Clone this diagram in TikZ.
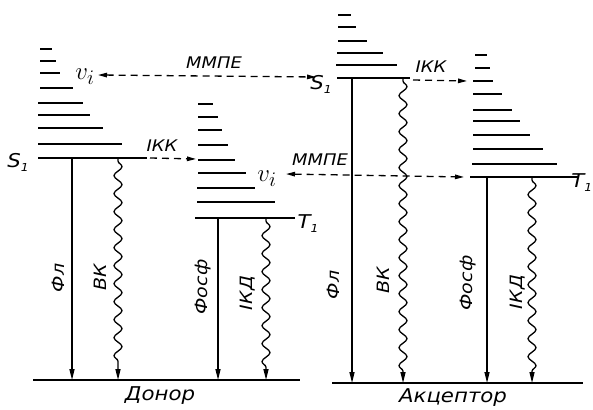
\documentclass[tikz,border=0pt]{standalone}
\usepackage{fontspec}
\newfontfamily\lab[FakeStretch=1.12]{DejaVu Sans}
\usetikzlibrary{arrows.meta,decorations.pathmorphing}
\begin{document}
\begin{tikzpicture}[x=1pt,y=-1pt,
  lvl/.style={line width=1.7pt},
  mainlvl/.style={line width=2.7pt},
  ground/.style={line width=2.7pt},
  radarrow/.style={line width=1.3pt,-{Triangle[length=11pt,width=5pt]}},
  wavy/.style={line width=1.3pt,-{Triangle[length=11pt,width=5pt]},decorate,
    decoration={snake,amplitude=4pt,segment length=18pt,pre length=3pt,post length=10pt}},
  dshboth/.style={line width=1.3pt,dash pattern=on 7pt off 5pt,{Triangle[length=9pt,width=4.5pt]}-{Triangle[length=9pt,width=4.5pt]}},
  dsh/.style={line width=1.3pt,dash pattern=on 7pt off 5pt,-{Triangle[length=9pt,width=4.5pt]}},
  lbl/.style={font=\lab\itshape\fontsize{16}{16}\selectfont,inner sep=0pt},
  vlbl/.style={font=\lab\itshape\fontsize{17}{17}\selectfont,inner sep=0pt,rotate=90},
  big/.style={font=\lab\itshape\fontsize{19}{19}\selectfont,inner sep=0pt},
  vi/.style={font=\fontsize{31}{31}\selectfont,inner sep=0pt},
]
\clip (0,0) rectangle (593,409);
\fill[white] (0,0) rectangle (593,409);

% ---------- Donor S1 ladder ----------
\foreach \yy/\a/\b in {49/40/52,61/40/56,73/40/60,88/40/73,103/38/83,115/38/90,128/38/103,144/38/122}
  \draw[lvl] (\a,\yy) -- (\b,\yy);
\draw[mainlvl] (38,158) -- (147,158);
% ---------- Donor T1 ladder ----------
\foreach \yy/\a/\b in {104/198/213,117/198/218,130/198/222,145/198/228,160/198/235,173/198/246,188/197/255,202/197/275}
  \draw[lvl] (\a,\yy) -- (\b,\yy);
\draw[mainlvl] (195,218) -- (295,218);
% ---------- Acceptor S1 ladder ----------
\foreach \yy/\a/\b in {15/338/351,27/338/356,41/338/367,53/337/383,65/336/397}
  \draw[lvl] (\a,\yy) -- (\b,\yy);
\draw[mainlvl] (337,78) -- (410,78);
% ---------- Acceptor T1 ladder ----------
\foreach \yy/\a/\b in {55/475/487,68/475/490,81/473/493,94/473/502,110/473/512,121/473/520,135/473/530,149/473/543,164/472/557}
  \draw[lvl] (\a,\yy) -- (\b,\yy);
\draw[mainlvl] (470,177) -- (578,177);

% ---------- ground lines ----------
\draw[ground] (33,380) -- (300,380);
\draw[ground] (332,383) -- (583,383);

% ---------- coordinates ----------
\coordinate (dFlT) at (72,158);   \coordinate (dFlB) at (72,380);
\coordinate (dVkT) at (118,158);  \coordinate (dVkB) at (118,380);
\coordinate (dFoT) at (218,218);  \coordinate (dFoB) at (218,380);
\coordinate (dIkT) at (266,218);  \coordinate (dIkB) at (266,380);
\coordinate (aFlT) at (352,78);   \coordinate (aFlB) at (352,383);
\coordinate (aVkT) at (403,78);   \coordinate (aVkB) at (403,383);
\coordinate (aFoT) at (487,177);  \coordinate (aFoB) at (487,383);
\coordinate (aIkT) at (532,177);  \coordinate (aIkB) at (532,383);

\coordinate (dIKKa) at (150,158); \coordinate (dIKKb) at (196,159);
\coordinate (aIKKa) at (413,80);  \coordinate (aIKKb) at (467,81);
\coordinate (m1a) at (98,75);     \coordinate (m1b) at (316,77);
\coordinate (m2a) at (286,174);   \coordinate (m2b) at (464,177);

% ---------- transitions ----------
\draw[radarrow] (dFlT) -- (dFlB);
\draw[wavy] (dVkT) -- (dVkB);
\draw[radarrow] (dFoT) -- (dFoB);
\draw[wavy] (dIkT) -- (dIkB);
\draw[radarrow] (aFlT) -- (aFlB);
\draw[wavy] (aVkT) -- (aVkB);
\draw[radarrow] (aFoT) -- (aFoB);
\draw[wavy] (aIkT) -- (aIkB);

\draw[dsh] (dIKKa) -- (dIKKb);
\draw[dsh] (aIKKa) -- (aIKKb);
\draw[dshboth] (m1a) -- (m1b);
\draw[dshboth] (m2a) -- (m2b);

% ---------- labels ----------
\node[big] (dS1) at (18,162) {S\raisebox{-4pt}{\fontsize{11}{11}\selectfont 1}};
\node[big] (aS1) at (321,84) {S\raisebox{-4pt}{\fontsize{11}{11}\selectfont 1}};
\node[big] (dT1) at (308,224) {T\raisebox{-4pt}{\fontsize{11}{11}\selectfont 1}};
\node[big,anchor=east] (aT1) at (592.5,183) {T\raisebox{-4pt}{\fontsize{11}{11}\selectfont 1}};
\node[vi] (vi1) at (85,77) {$v_i$};
\node[vi] (vi2) at (267,179) {$v_i$};
\node[lbl] (mm1) at (214,63) {ММПЕ};
\node[lbl] (mm2) at (320,160) {ММПЕ};
\node[lbl] (ikk1) at (162,146) {IКК};
\node[lbl] (ikk2) at (431,67) {IКК};

\node[vlbl] (l1) at (58,278) {Фл};
\node[vlbl] (l2) at (100,277) {ВК};
\node[vlbl] (l3) at (203,287) {Фосф};
\node[vlbl] (l4) at (248,293) {IКД};
\node[vlbl] (l5) at (333,285) {Фл};
\node[vlbl] (l6) at (383,280) {ВК};
\node[vlbl] (l7) at (468,283) {Фосф};
\node[vlbl] (l8) at (518,292) {IКД};

\node[big] (don) at (160,396) {Донор};
\node[big] (acc) at (453,398) {Акцептор};
\end{tikzpicture}
\end{document}
